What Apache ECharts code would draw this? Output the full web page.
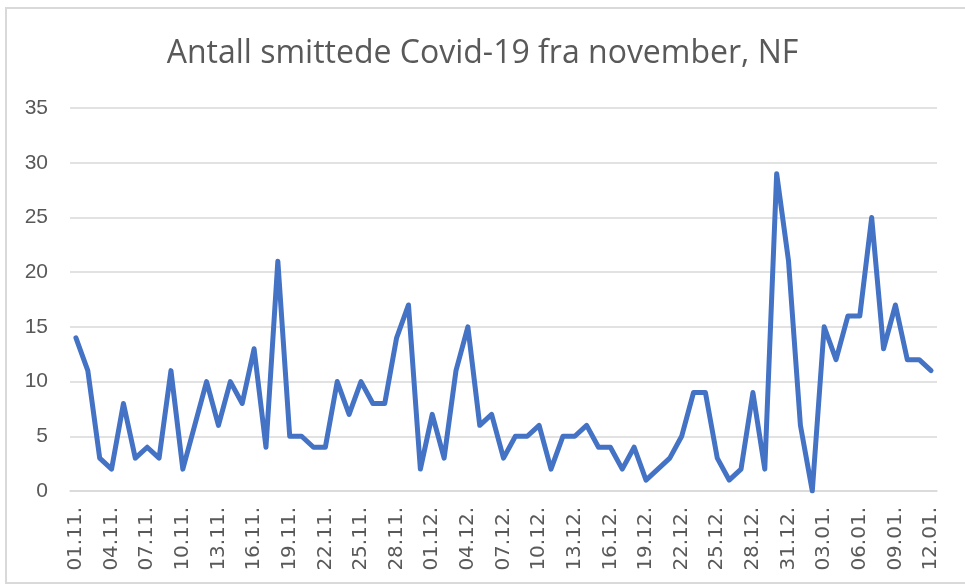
<!DOCTYPE html>
<html>
<head>
<meta charset="utf-8">
<script src="https://cdn.jsdelivr.net/npm/echarts@6/dist/echarts.min.js"></script>
<style>
  html, body { margin: 0; padding: 0; background: #fff; }
  #chart { width: 965px; height: 585px; }
</style>
</head>
<body>
<div id="chart"></div>
<script>
const dates = [
  '01.11.', '02.11.', '03.11.', '04.11.', '05.11.', '06.11.', '07.11.', '08.11.', '09.11.', '10.11.',
  '11.11.', '12.11.', '13.11.', '14.11.', '15.11.', '16.11.', '17.11.', '18.11.', '19.11.', '20.11.',
  '21.11.', '22.11.', '23.11.', '24.11.', '25.11.', '26.11.', '27.11.', '28.11.', '29.11.', '30.11.',
  '01.12.', '02.12.', '03.12.', '04.12.', '05.12.', '06.12.', '07.12.', '08.12.', '09.12.', '10.12.',
  '11.12.', '12.12.', '13.12.', '14.12.', '15.12.', '16.12.', '17.12.', '18.12.', '19.12.', '20.12.',
  '21.12.', '22.12.', '23.12.', '24.12.', '25.12.', '26.12.', '27.12.', '28.12.', '29.12.', '30.12.',
  '31.12.', '01.01.', '02.01.', '03.01.', '04.01.', '05.01.', '06.01.', '07.01.', '08.01.', '09.01.',
  '10.01.', '11.01.', '12.01.'
];
const cases = [
  14, 11, 3, 2, 8, 3, 4, 3, 11, 2,
  6, 10, 6, 10, 8, 13, 4, 21, 5, 5,
  4, 4, 10, 7, 10, 8, 8, 14, 17, 2,
  7, 3, 11, 15, 6, 7, 3, 5, 5, 6,
  2, 5, 5, 6, 4, 4, 2, 4, 1, 2,
  3, 5, 9, 9, 3, 1, 2, 9, 2, 29,
  21, 6, 0, 15, 12, 16, 16, 25, 13, 17,
  12, 12, 11
];
const yTicks = [0, 5, 10, 15, 20, 25, 30, 35];

const chart = echarts.init(document.getElementById('chart'));
chart.setOption({
  animation: false,
  title: {
    text: 'Antall smittede Covid-19 fra november, NF',
    left: 'center',
    top: 33,
    textStyle: { fontFamily: 'Open Sans', fontWeight: 'normal', fontSize: 32, color: '#595959' }
  },
  graphic: [{
    type: 'rect',
    shape: { x: 6, y: 8, width: 1100, height: 575 },
    style: { fill: 'none', stroke: '#d9d9d9', lineWidth: 2 },
    silent: true
  }],
  grid: { left: 70, right: 28, top: 108, bottom: 94 },
  xAxis: {
    type: 'category',
    data: dates,
    boundaryGap: true,
    axisLine: { lineStyle: { color: '#d9d9d9', width: 1.5 } },
    axisTick: { show: false },
    axisLabel: {
      interval: 2,
      rotate: 90,
      margin: 16,
      color: '#595959',
      fontFamily: 'DejaVu Sans',
      fontSize: 20
    }
  },
  yAxis: {
    type: 'value',
    min: yTicks[0],
    max: yTicks[yTicks.length - 1],
    interval: 5,
    axisLine: { show: false },
    axisTick: { show: false },
    splitLine: { lineStyle: { color: '#d9d9d9', width: 1.5 } },
    axisLabel: {
      margin: 22,
      color: '#595959',
      fontFamily: 'Liberation Sans',
      fontSize: 21
    }
  },
  series: [{
    type: 'line',
    data: cases,
    showSymbol: false,
    lineStyle: { color: '#4472C4', width: 5, join: 'round', cap: 'round' }
  }]
});
</script>
</body>
</html>
